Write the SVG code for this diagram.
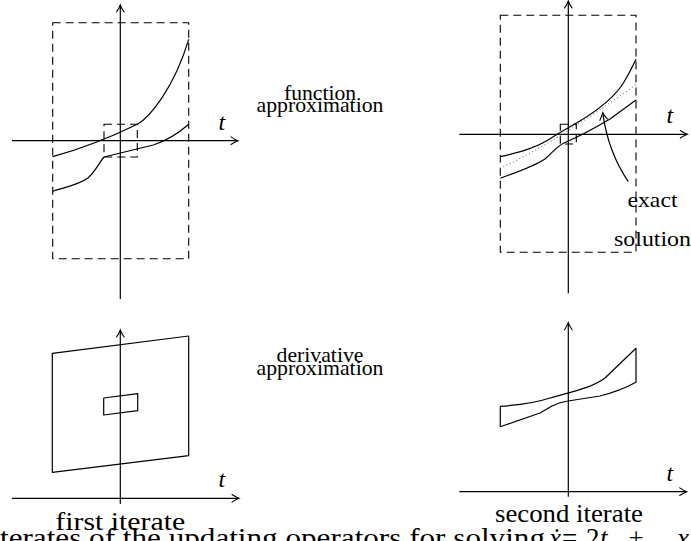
<svg xmlns="http://www.w3.org/2000/svg" width="691" height="541" viewBox="0 0 691 541">
<defs>
<marker id="ah" markerUnits="userSpaceOnUse" markerWidth="14" markerHeight="12" viewBox="-10 -6 12 12" refX="0" refY="0" orient="auto" overflow="visible">
<path d="M-7,-3.8 Q-3,-1 0,0 Q-3,1 -7,3.8" fill="none" stroke="#000" stroke-width="1.1" stroke-linecap="round"/>
</marker>
<style>
.ax{stroke:#000;stroke-width:1.2;fill:none;marker-end:url(#ah)}
.cv{stroke:#000;stroke-width:1.2;fill:none;stroke-linejoin:round}
.ds{stroke:#000;stroke-width:1.1;fill:none;stroke-dasharray:8,5}
.dt{stroke:#777;stroke-width:1.1;fill:none;stroke-dasharray:1,2.6}
text{font-family:'Liberation Serif','DejaVu Serif','Times New Roman',serif;fill:#000}
.rl{font-size:21.5px}
.lb{font-size:26px}
.cp{font-size:27px}
.sm{font-size:22px}
.tl{font-size:24px;font-style:italic}
.it{font-style:italic}
</style>
</defs>

<g id="panel-function-first">
<line class="ax" x1="12" y1="140.7" x2="238" y2="140.7"/>
<line class="ax" x1="120.3" y1="299" x2="120.3" y2="5"/>
<rect class="ds" x="52.7" y="22.7" width="136" height="236"/>
<rect class="ds" x="104" y="124.3" width="33.3" height="32.7"/>
<path class="cv" d="M52.7,156.7 Q95,145 137.3,124.3 C150,117 174,88 188.7,39.3"/>
<path class="cv" d="M52.7,191.3 C70,186 80,184 88,178 C95,172 99,163 104,157 L153.3,145 Q172,139 188.7,124.3"/>
<text class="tl" x="218.5" y="130">t</text>
</g>

<g id="panel-function-second">
<line class="ax" x1="459.3" y1="134.3" x2="687.3" y2="134.3"/>
<line class="ax" x1="568.3" y1="293.3" x2="568.3" y2="1"/>
<rect class="ds" x="500.3" y="15.3" width="135.7" height="237"/>
<rect class="ds" x="560.3" y="124.3" width="16" height="19.7"/>
<path class="cv" d="M500.3,156.7 C520,152 535,148 548,140 C560,132 568,128 580,121 C598,110 615,97 624,82 Q630,72 636,59.3"/>
<path class="cv" d="M500.3,178.3 C520,171 535,166 545,159 C552,153 556,147 564,143 C580,136 595,128 610,119 L636,100"/>
<path class="dt" d="M500.3,168.3 Q560,140 636,84.3"/>
<text class="tl" x="666.5" y="123">t</text>
</g>

<g id="label-exact-solution">
<path class="ax" d="M628.3,181.7 Q608,152 602.7,112.7"/>
<text class="sm" x="652.5" y="207" text-anchor="middle" textLength="50" lengthAdjust="spacingAndGlyphs">exact</text>
<text class="sm" x="652.5" y="246" text-anchor="middle" textLength="77" lengthAdjust="spacingAndGlyphs">solution</text>
</g>

<g id="panel-derivative-first">
<line class="ax" x1="12" y1="498.3" x2="239" y2="498.3"/>
<line class="ax" x1="120.3" y1="504" x2="120.3" y2="330"/>
<path class="cv" d="M52.3,353.3 L188.7,336 L188.7,455.7 L52.3,472.3 Z"/>
<path class="cv" d="M103.7,398 L137.7,393.7 L137.7,410.7 L103.7,415 Z"/>
<text class="tl" x="218.5" y="487">t</text>
</g>

<g id="panel-derivative-second">
<line class="ax" x1="459.3" y1="491.7" x2="686.7" y2="491.7"/>
<line class="ax" x1="568.3" y1="496.7" x2="568.3" y2="322.7"/>
<path class="cv" d="M500.3,406.3 C520,405 535,403 550,398 C570,392 592,388 605,378 L636,348.3 L636,382.3 Q620,391 600,396 L568,401 Q560,402 552,406 L540,413 L500.3,426.7 Z"/>
<text class="tl" x="666.5" y="481">t</text>
</g>

<g id="row-labels">
<text class="rl" x="320" y="100" text-anchor="middle" textLength="72" lengthAdjust="spacingAndGlyphs">function</text>
<text class="rl" x="320" y="111.5" text-anchor="middle" textLength="127" lengthAdjust="spacingAndGlyphs">approximation</text>
<text class="rl" x="320" y="362" text-anchor="middle" textLength="87" lengthAdjust="spacingAndGlyphs">derivative</text>
<text class="rl" x="320" y="374.5" text-anchor="middle" textLength="127" lengthAdjust="spacingAndGlyphs">approximation</text>
</g>

<g id="column-labels">
<text class="lb" x="120.3" y="530" text-anchor="middle" textLength="130" lengthAdjust="spacingAndGlyphs">first iterate</text>
<text class="lb" x="569" y="522" text-anchor="middle" textLength="148" lengthAdjust="spacingAndGlyphs">second iterate</text>
</g>

<g id="caption">
<text class="cp" x="0" y="547" textLength="545" lengthAdjust="spacingAndGlyphs">terates of the updating operators for solving</text>
<text class="cp it" x="549" y="547">ẋ</text>
<text class="cp" x="569.5" y="547" text-anchor="middle">=</text>
<text class="cp" x="586" y="547">2</text>
<text class="cp it" x="600" y="547">t</text>
<text class="cp" x="636" y="547" text-anchor="middle">+</text>
<text class="cp it" x="677" y="547">x</text>
</g>
</svg>
